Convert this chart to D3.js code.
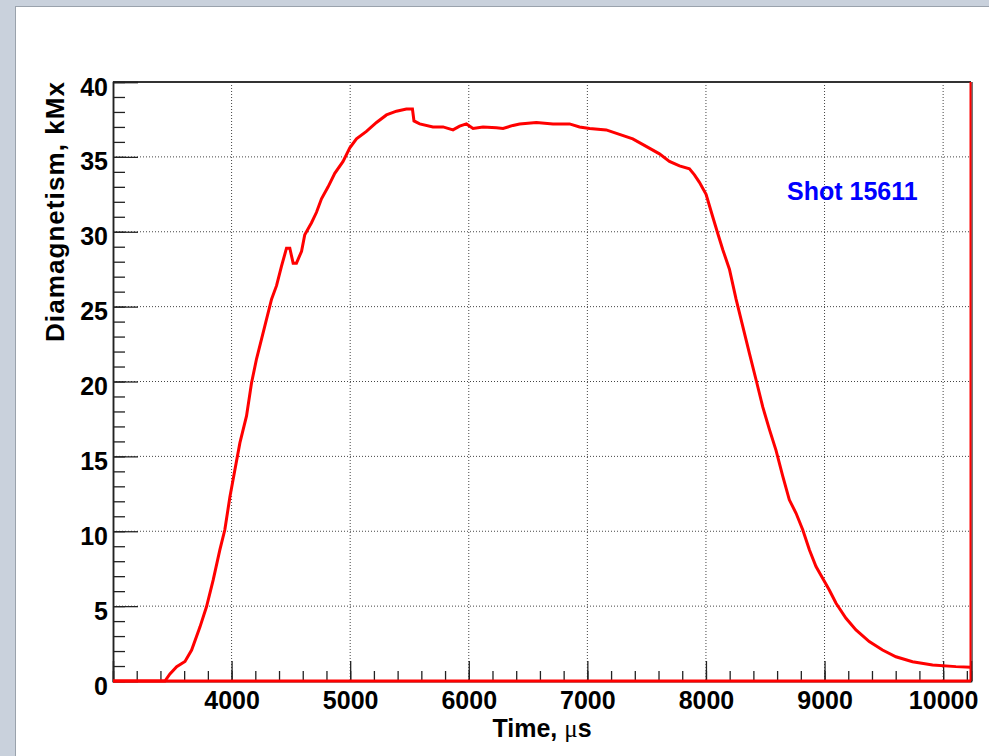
<!DOCTYPE html>
<html>
<head>
<meta charset="utf-8">
<script src="https://cdn.jsdelivr.net/npm/d3@7"></script>
<style>
body { margin: 0; background: #c9d1dc; }
</style>
</head>
<body>
<div id="chart"></div>
<script>
// diamagnetic signal, shot 15611
var times = [3000, 3438, 3480, 3537, 3607, 3663, 3733, 3789, 3845, 3901, 3943, 3986, 4028, 4070, 4126, 4168,
	4210, 4280, 4337, 4379, 4421, 4463, 4491, 4519, 4547, 4590, 4617, 4674, 4716, 4758, 4814, 4870, 4940, 4997,
	5053, 5137, 5222, 5306, 5390, 5474, 5525, 5538, 5586, 5698, 5783, 5867, 5923, 5980, 6036, 6120, 6233, 6289,
	6373, 6429, 6570, 6710, 6850, 6934, 7019, 7159, 7271, 7383, 7496, 7608, 7692, 7777, 7861, 7903, 7945, 8001,
	8057, 8099, 8142, 8198, 8254, 8310, 8366, 8423, 8479, 8535, 8591, 8647, 8703, 8760, 8816, 8872, 8928, 8984,
	9040, 9097, 9181, 9265, 9377, 9489, 9602, 9742, 9911, 10108, 10235];
var values = [0, 0, 0.47, 0.96, 1.3, 2.07, 3.6, 4.97, 6.75, 8.76, 10.1, 12.3, 14.1, 15.9, 17.7, 19.9,
	21.5, 23.7, 25.5, 26.4, 27.7, 28.9, 28.9, 27.9, 27.9, 28.7, 29.8, 30.6, 31.3, 32.2, 33.0, 33.9, 34.7, 35.6,
	36.2, 36.7, 37.3, 37.8, 38.05, 38.2, 38.2, 37.4, 37.2, 37.0, 37.0, 36.8, 37.05, 37.2, 36.9, 37.0, 36.95, 36.9,
	37.1, 37.2, 37.3, 37.2, 37.2, 37.0, 36.9, 36.8, 36.5, 36.2, 35.7, 35.2, 34.7, 34.4, 34.2, 33.8, 33.3, 32.5,
	31.0, 29.9, 28.8, 27.5, 25.5, 23.7, 21.9, 20.1, 18.3, 16.8, 15.4, 13.7, 12.1, 11.2, 10.1, 8.76, 7.64, 6.86,
	6.08, 5.19, 4.19, 3.41, 2.63, 2.07, 1.62, 1.29, 1.07, 0.96, 0.92];

var xTicks = [4000, 5000, 6000, 7000, 8000, 9000, 10000];
var xMinorTicks = d3.range(3200, 10236, 200);
var yTicks = [0, 5, 10, 15, 20, 25, 30, 35, 40];
var yMinorTicks = d3.range(1, 40, 1);
var xTitle = "Time, ";
var xUnit = "μs";
var yTitle = "Diamagnetism, kMx";
var shotLabel = "Shot 15611";

var cfg = {
 w: 989,
 h: 756,
 margin: {top: 82, right: 18, bottom: 75, left: 113},
 font: "'Liberation Sans', Arial, sans-serif",
 line: "#ff0000",
};

var data = times.map(function(t, i) { return {t: t, v: values[i]}; });

const graphW = cfg.w - cfg.margin.left - cfg.margin.right;
const graphH = cfg.h - cfg.margin.top - cfg.margin.bottom;

var root = d3.select("#chart")
	.append("svg")
	.attr("width", cfg.w)
	.attr("height", cfg.h);

// white canvas on the grey-blue desktop
root.append("rect")
	.attr("x", 0).attr("y", 0)
	.attr("width", cfg.w).attr("height", cfg.h)
	.attr("fill", "#c9d1dc");
root.append("rect")
	.attr("x", 15.5).attr("y", 6.5)
	.attr("width", cfg.w).attr("height", cfg.h)
	.attr("fill", "#ffffff")
	.attr("stroke", "#9aa2ac");

var svg = root.append("g")
	.attr("transform", "translate(" + cfg.margin.left + "," + cfg.margin.top + ")");

var x = d3.scaleLinear()
	.domain([3000, 10235])
	.range([0, graphW]);

var y = d3.scaleLinear()
	.domain([0, 40])
	.range([graphH, 0]);

// dotted grid
svg.append("g").selectAll("line")
	.data(xTicks)
	.join("line")
	.attr("x1", function(d) { return x(d); })
	.attr("x2", function(d) { return x(d); })
	.attr("y1", 0)
	.attr("y2", graphH)
	.attr("stroke", "#444")
	.attr("stroke-dasharray", "1,2");

svg.append("g").selectAll("line")
	.data(yTicks.slice(1))
	.join("line")
	.attr("x1", 0)
	.attr("x2", graphW)
	.attr("y1", function(d) { return y(d); })
	.attr("y2", function(d) { return y(d); })
	.attr("stroke", "#444")
	.attr("stroke-dasharray", "1,2");

// frame
svg.append("line")
	.attr("x1", 0).attr("x2", graphW)
	.attr("y1", 0).attr("y2", 0)
	.attr("stroke", "#333").attr("stroke-width", 2);
svg.append("line")
	.attr("x1", graphW + 1).attr("x2", graphW + 1)
	.attr("y1", 0).attr("y2", graphH)
	.attr("stroke", "#444").attr("stroke-width", 1.5);

// Y axis
var yAxis = svg.append("g")
	.call(d3.axisLeft(y).tickValues(yTicks).tickSize(-25).tickPadding(5).tickFormat(d3.format("d")));
svg.append("g")
	.call(d3.axisLeft(y).tickValues(yMinorTicks).tickSize(-12).tickFormat(""));

// X axis
var xAxis = svg.append("g")
	.attr("transform", "translate(0," + graphH + ")")
	.call(d3.axisBottom(x).tickValues(xTicks).tickSize(-20).tickPadding(10).tickFormat(d3.format("d")));
svg.append("g")
	.attr("transform", "translate(0," + graphH + ")")
	.call(d3.axisBottom(x).tickValues(xMinorTicks).tickSize(-10).tickFormat(""));

svg.selectAll(".domain")
	.attr("stroke", "#222")
	.attr("stroke-width", 1.5);
svg.selectAll(".tick line")
	.attr("stroke", "#222")
	.attr("stroke-width", 1.3);
svg.selectAll(".tick text")
	.attr("font-family", cfg.font)
	.attr("font-weight", "bold")
	.attr("font-size", "25px")
	.attr("fill", "#000");
yAxis.selectAll(".tick text").attr("dy", "0.52em");

// histogram outline
svg.append("path")
	.datum(data)
	.attr("fill", "none")
	.attr("stroke", cfg.line)
	.attr("stroke-width", 3)
	.attr("stroke-linejoin", "miter")
	.attr("d", d3.line()
		.x(function(d) { return x(d.t); })
		.y(function(d) { return y(d.v); })
		);

svg.append("line")
	.attr("x1", 0).attr("x2", graphW)
	.attr("y1", y(0)).attr("y2", y(0))
	.attr("stroke", cfg.line).attr("stroke-width", 3);
svg.append("line")
	.attr("x1", graphW - 0.5).attr("x2", graphW - 0.5)
	.attr("y1", y(40)).attr("y2", y(0))
	.attr("stroke", cfg.line).attr("stroke-width", 2);

// titles
var xt = svg.append("text")
	.attr("x", graphW / 2)
	.attr("y", graphH + 56)
	.attr("text-anchor", "middle")
	.attr("font-family", cfg.font)
	.attr("font-weight", "bold")
	.attr("font-size", "25px")
	.text(xTitle);
xt.append("tspan")
	.attr("font-family", "'Liberation Serif', serif")
	.attr("font-weight", "normal")
	.text(xUnit.charAt(0));
xt.append("tspan").text(xUnit.slice(1));

svg.append("text")
	.attr("transform", "translate(-49,0) rotate(-90)")
	.attr("text-anchor", "end")
	.attr("font-family", cfg.font)
	.attr("font-weight", "bold")
	.attr("font-size", "26px")
	.attr("textLength", 260)
	.attr("lengthAdjust", "spacing")
	.text(yTitle);

svg.append("text")
	.attr("x", 787 - cfg.margin.left)
	.attr("y", 200 - cfg.margin.top)
	.attr("font-family", cfg.font)
	.attr("font-weight", "bold")
	.attr("font-size", "25px")
	.attr("fill", "#0000ff")
	.text(shotLabel);
</script>
</body>
</html>
